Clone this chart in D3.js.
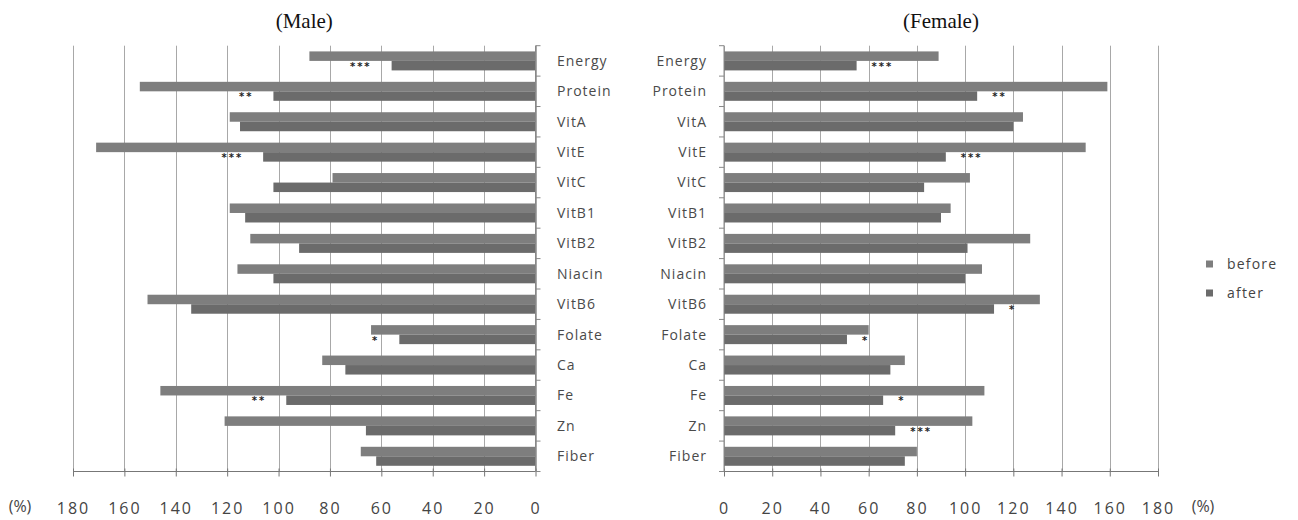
<!DOCTYPE html>
<html>
<head>
<meta charset="utf-8">
<script src="https://cdn.jsdelivr.net/npm/d3@7"></script>
<style>
  body { margin: 0; background: #fff; }
  svg { display: block; }
</style>
</head>
<body>
<script>
// Nutrients, top to bottom
var nutrients = ["Energy", "Protein", "VitA", "VitE", "VitC", "VitB1", "VitB2",
                 "Niacin", "VitB6", "Folate", "Ca", "Fe", "Zn", "Fiber"];

// % of reference intake
var maleBefore   = [88, 154, 119, 171, 79, 119, 111, 116, 151, 64, 83, 146, 121, 68];
var maleAfter    = [56, 102, 115, 106, 102, 113, 92, 102, 134, 53, 74, 97, 66, 62];
var femaleBefore = [89, 159, 124, 150, 102, 94, 127, 107, 131, 60, 75, 108, 103, 80];
var femaleAfter  = [55, 105, 120, 92, 83, 90, 101, 100, 112, 51, 69, 66, 71, 75];

// significance marks (after vs before)
var maleSig   = ["***", "**", "", "***", "", "", "", "", "", "*", "", "**", "", ""];
var femaleSig = ["***", "**", "", "***", "", "", "", "", "*", "*", "", "*", "***", ""];

var ticks = [0, 20, 40, 60, 80, 100, 120, 140, 160, 180];
var seriesNames = ["before", "after"];

var width = 1298, height = 520;
var plotTop = 45.7, plotBottom = 471.5;
var colBefore = "#7e7e7e", colAfter = "#6b6b6b";

var svg = d3.select("body").append("svg")
  .attr("width", width)
  .attr("height", height);

svg.append("rect").attr("width", width).attr("height", height).attr("fill", "#fff");

var y = d3.scaleBand().domain(nutrients).range([plotTop, plotBottom]);
var barH = 9.5;

// Male goes right to left, female left to right
var xMale = d3.scaleLinear().domain([0, 180]).range([535.5, 73]);
var xFemale = d3.scaleLinear().domain([0, 180]).range([724, 1158]);

function drawPanel(x, before, after, sig, title, side) {
  var g = svg.append("g");
  var x0 = x(0);

  // vertical gridlines
  g.selectAll(".grid").data(ticks).enter().append("line")
    .attr("x1", function(d) { return Math.round(x(d)) + 0.5; })
    .attr("x2", function(d) { return Math.round(x(d)) + 0.5; })
    .attr("y1", plotTop).attr("y2", plotBottom)
    .attr("stroke", "#a8a8a8").attr("stroke-width", 1);

  var rows = nutrients.map(function(n, i) {
    return {name: n, before: before[i], after: after[i], sig: sig[i]};
  });

  // before bars (upper half)
  g.selectAll(".b").data(rows).enter().append("rect")
    .attr("x", function(d) { return Math.min(x0, x(d.before)); })
    .attr("width", function(d) { return Math.abs(x(d.before) - x0); })
    .attr("y", function(d) { return y(d.name) + y.bandwidth() / 2 - barH; })
    .attr("height", barH)
    .attr("fill", colBefore);

  // after bars (lower half)
  g.selectAll(".a").data(rows).enter().append("rect")
    .attr("x", function(d) { return Math.min(x0, x(d.after)); })
    .attr("width", function(d) { return Math.abs(x(d.after) - x0); })
    .attr("y", function(d) { return y(d.name) + y.bandwidth() / 2; })
    .attr("height", barH)
    .attr("fill", colAfter);

  // significance stars
  var gap = side === "left" ? 20 : 15;
  g.selectAll(".sig").data(rows.filter(function(d) { return d.sig; })).enter().append("text")
    .attr("x", function(d) { return side === "left" ? x(d.after) - gap : x(d.after) + gap; })
    .attr("y", function(d) { return y(d.name) + y.bandwidth() / 2 + 9; })
    .attr("text-anchor", side === "left" ? "end" : "start")
    .attr("font-family", "DejaVu Sans")
    .attr("font-size", 10)
    .attr("font-weight", "bold")
    .attr("letter-spacing", 2)
    .attr("fill", "#222")
    .text(function(d) { return d.sig; });

  // bottom value axis
  var axis = d3.axisBottom(x).tickValues(ticks).tickSize(5).tickPadding(26)
    .tickFormat(function(d) { return d; });
  var ax = g.append("g").attr("transform", "translate(0," + plotBottom + ")").call(axis);
  ax.select(".domain").attr("stroke", "#777").attr("d",
    "M" + Math.min(x(0), x(180)) + ",0H" + Math.max(x(0), x(180)));
  ax.selectAll(".tick line").attr("stroke", "#777").attr("y1", -3);
  ax.selectAll(".tick text")
    .attr("font-family", "Open Sans")
    .attr("font-size", 16)
    .attr("letter-spacing", 2)
    .attr("fill", "#444");

  // category axis line with boundary ticks
  g.append("line")
    .attr("x1", x0).attr("x2", x0).attr("y1", plotTop).attr("y2", plotBottom)
    .attr("stroke", "#888");
  var bounds = nutrients.map(function(n) { return y(n); }).concat([plotBottom]);
  g.selectAll(".ctick").data(bounds).enter().append("line")
    .attr("x1", x0).attr("x2", side === "left" ? x0 + 5 : x0 - 5)
    .attr("y1", function(d) { return d; }).attr("y2", function(d) { return d; })
    .attr("stroke", "#888");

  // category labels
  g.selectAll(".lab").data(nutrients).enter().append("text")
    .attr("x", side === "left" ? 557 : 707)
    .attr("y", function(d) { return y(d) + y.bandwidth() / 2; })
    .attr("dy", "0.35em")
    .attr("text-anchor", side === "left" ? "start" : "end")
    .attr("font-family", "Open Sans")
    .attr("font-size", 14)
    .attr("letter-spacing", 1)
    .attr("fill", "#4a4a4a")
    .text(function(d) { return d; });

  // panel title
  g.append("text")
    .attr("x", (x(0) + x(180)) / 2)
    .attr("y", 28)
    .attr("text-anchor", "middle")
    .attr("font-family", "Liberation Serif")
    .attr("font-size", 21)
    .attr("fill", "#111")
    .text(title);

  // (%) unit
  g.append("text")
    .attr("x", side === "left" ? 20 : 1203)
    .attr("y", plotBottom + 35)
    .attr("dy", "0.35em")
    .attr("text-anchor", "middle")
    .attr("font-family", "Open Sans")
    .attr("font-size", 16)
    .attr("fill", "#444")
    .text("(%)");
}

drawPanel(xMale, maleBefore, maleAfter, maleSig, "(Male)", "left");
drawPanel(xFemale, femaleBefore, femaleAfter, femaleSig, "(Female)", "right");

// legend
var legend = svg.append("g").attr("transform", "translate(1206,264)");
var legColors = [colBefore, colAfter];
var items = legend.selectAll("g").data(seriesNames).enter().append("g")
  .attr("transform", function(d, i) { return "translate(0," + i * 29 + ")"; });
items.append("rect")
  .attr("x", 0).attr("y", -3.5).attr("width", 7).attr("height", 7)
  .attr("fill", function(d, i) { return legColors[i]; });
items.append("text")
  .attr("x", 21).attr("y", 0).attr("dy", "0.35em")
  .attr("font-family", "Open Sans")
  .attr("font-size", 14)
  .attr("letter-spacing", 1.2)
  .attr("fill", "#444")
  .text(function(d) { return d; });
</script>
</body>
</html>
